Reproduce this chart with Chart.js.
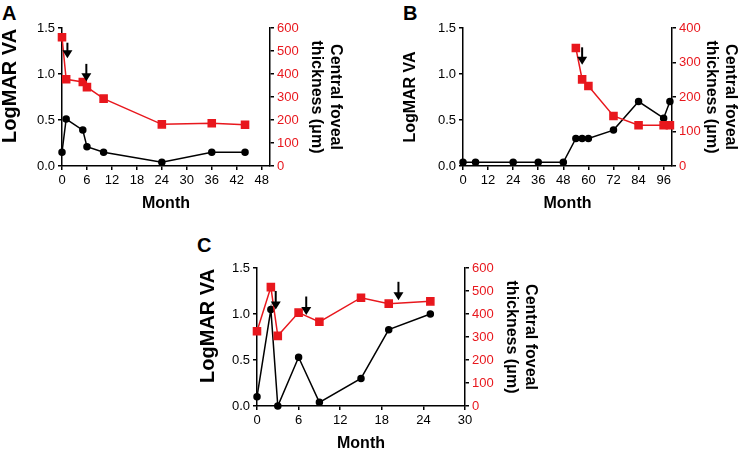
<!DOCTYPE html>
<html>
<head>
<meta charset="utf-8">
<script src="https://cdn.jsdelivr.net/npm/chart.js@4.4.1/dist/chart.umd.min.js"></script>
<style>
  body { margin: 0; background: #fff; width: 749px; height: 452px; position: relative; overflow: hidden; }
  canvas { position: absolute; }
  .tag { position: absolute; font: bold 20px Arial, "Liberation Sans", sans-serif; line-height: 20px; color: #000; }
</style>
</head>
<body>
<div class="tag" style="left:2px;top:3px">A</div>
<div class="tag" style="left:403px;top:3px">B</div>
<div class="tag" style="left:197px;top:235px">C</div>
<canvas id="chartA" width="345" height="215" style="left:0;top:0"></canvas>
<canvas id="chartB" width="337" height="215" style="left:403px;top:0"></canvas>
<canvas id="chartC" width="342" height="212" style="left:198px;top:240px"></canvas>
<script>
// Panel A
const monthsA = [0, 1, 5, 6, 10, 24, 36, 44];
const logmarA = [0.15, 0.51, 0.39, 0.21, 0.15, 0.04, 0.15, 0.15];
const thickA = [560, 377, 365, 343, 293, 181, 186, 179];
const arrowsA = [{ x: 1.3, top: 1.34, tip: 1.17 }, { x: 5.85, top: 1.11, tip: 0.92 }];

// Panel B
const monthsB = [0, 6, 24, 36, 48, 54, 57, 60, 72, 84, 96, 99];
const logmarB = [0.04, 0.04, 0.04, 0.04, 0.04, 0.30, 0.30, 0.30, 0.39, 0.70, 0.52, 0.70];
const thickMonthsB = [54, 57, 60, 72, 84, 96, 99];
const thickB = [342, 251, 232, 145, 118, 118, 118];
const arrowsB = [{ x: 57, top: 1.29, tip: 1.10 }];

// Panel C
const monthsC = [0, 2, 3, 6, 9, 15, 19, 25];
const logmarC = [0.10, 1.05, 0.0, 0.53, 0.04, 0.30, 0.83, 1.00];
const thickC = [325, 517, 305, 406, 366, 471, 445, 455];
const arrowsC = [{ x: 2.7, top: 1.25, tip: 1.05 }, { x: 7.1, top: 1.19, tip: 0.99 }, { x: 20.4, top: 1.35, tip: 1.15 }];

const RED = "#e8171d";
const FONT = "Arial, 'Liberation Sans', sans-serif";

// little down arrows marking injections
function arrowPlugin(list) {
  return {
    id: "arrows",
    afterDatasetsDraw(chart) {
      const ctx = chart.ctx;
      const xs = chart.scales.x, ys = chart.scales.y;
      ctx.save();
      ctx.strokeStyle = "#000";
      ctx.fillStyle = "#000";
      ctx.lineWidth = 2;
      list.forEach(a => {
        const x = xs.getPixelForValue(a.x);
        const y1 = ys.getPixelForValue(a.top);
        const y2 = ys.getPixelForValue(a.tip);
        const head = 8;
        ctx.beginPath();
        ctx.moveTo(x, y1);
        ctx.lineTo(x, y2 - head + 1);
        ctx.stroke();
        ctx.beginPath();
        ctx.moveTo(x - 5, y2 - head);
        ctx.lineTo(x + 5, y2 - head);
        ctx.lineTo(x, y2);
        ctx.closePath();
        ctx.fill();
      });
      ctx.restore();
    }
  };
}

function toPoints(xs, ys) {
  return xs.map((x, i) => ({ x: x, y: ys[i] }));
}

function makeChart(id, cfg) {
  const axisCommon = {
    border: { color: "#000", width: 1.5 },
    grid: { drawOnChartArea: false, color: "#000", tickLength: 4, lineWidth: 1.5 }
  };
  return new Chart(document.getElementById(id), {
    type: "line",
    data: {
      datasets: [
        {
          data: toPoints(cfg.thickX, cfg.thick),
          yAxisID: "y2",
          borderColor: RED,
          backgroundColor: RED,
          borderWidth: 1.5,
          pointStyle: "rect",
          pointRadius: 5,
          pointHoverRadius: 5,
          clip: false
        },
        {
          data: toPoints(cfg.months, cfg.logmar),
          yAxisID: "y",
          borderColor: "#000",
          backgroundColor: "#000",
          borderWidth: 1.5,
          pointStyle: "circle",
          pointRadius: 3,
          pointHoverRadius: 3,
          clip: false
        }
      ]
    },
    options: {
      responsive: false,
      animation: false,
      devicePixelRatio: 1,
      layout: { padding: { top: cfg.top, left: 0, right: 0, bottom: 0 } },
      plugins: { legend: { display: false }, tooltip: { enabled: false } },
      scales: {
        x: {
          type: "linear",
          min: 0,
          max: cfg.xMax,
          ...axisCommon,
          ticks: { stepSize: cfg.xStep, includeBounds: false, color: "#000", font: { family: FONT, size: 13 }, padding: 3, maxRotation: 0 },
          title: { display: true, text: "Month", color: "#000", font: { family: FONT, size: 16, weight: "bold", lineHeight: cfg.monthLH }, padding: { top: 0, bottom: cfg.monthPad } },
          afterFit: s => { s.height = cfg.xH; }
        },
        y: {
          position: "left",
          min: 0,
          max: 1.5,
          ...axisCommon,
          ticks: { stepSize: 0.5, color: "#000", font: { family: FONT, size: 13 }, padding: 3, callback: v => v.toFixed(1) },
          title: { display: true, text: cfg.vaText, color: "#000", font: { family: FONT, size: cfg.vaSize, weight: "bold", lineHeight: 1 }, padding: 0 },
          afterFit: s => { s.width = cfg.leftW; }
        },
        y2: {
          position: "right",
          min: 0,
          max: cfg.thickMax,
          ...axisCommon,
          ticks: { stepSize: 100, color: RED, font: { family: FONT, size: 13 }, padding: 3 },
          title: { display: true, text: ["Central foveal", "thickness (μm)"], color: "#000", font: { family: FONT, size: 16, weight: "bold" }, padding: 0 },
          afterFit: s => { s.width = cfg.rightW; }
        }
      }
    },
    plugins: [arrowPlugin(cfg.arrows)]
  });
}

makeChart("chartA", {
  months: monthsA, logmar: logmarA, thickX: monthsA, thick: thickA, arrows: arrowsA,
  xMax: 50, xStep: 6, thickMax: 600, top: 28, leftW: 62, rightW: 75, xH: 49, monthPad: 2, monthLH: 1.2,
  vaText: "\u00a0\u00a0\u00a0\u00a0LogMAR VA", vaSize: 20
});
makeChart("chartB", {
  months: monthsB, logmar: logmarB, thickX: thickMonthsB, thick: thickB, arrows: arrowsB,
  xMax: 100, xStep: 12, thickMax: 400, top: 28, leftW: 60, rightW: 68, xH: 49, monthPad: 2, monthLH: 1.2,
  vaText: "LogMAR VA", vaSize: 16
});
makeChart("chartC", {
  months: monthsC, logmar: logmarC, thickX: monthsC, thick: thickC, arrows: arrowsC,
  xMax: 30, xStep: 6, thickMax: 600, top: 28, leftW: 59, rightW: 75, xH: 46, monthPad: 0, monthLH: 1,
  vaText: "\u00a0\u00a0\u00a0\u00a0LogMAR VA", vaSize: 20
});
</script>
</body>
</html>
